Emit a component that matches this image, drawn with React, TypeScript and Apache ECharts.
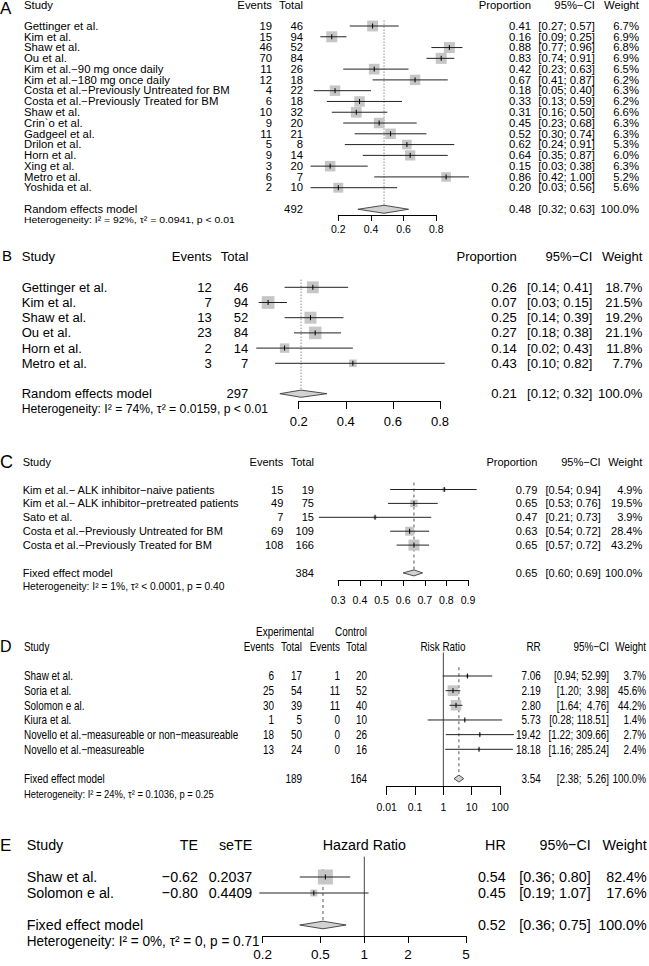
import React, { useEffect, useRef } from "react";
import * as echarts from "echarts";

// ---------------- Panel A data ----------------
const aStudies = [
  "Gettinger et al.", "Kim et al.", "Shaw et al.", "Ou et al.",
  "Kim et al.−90 mg once daily", "Kim et al.−180 mg once daily",
  "Costa et al.−Previously Untreated for BM", "Costa et al.−Previously Treated for BM",
  "Shaw et al.", "Crin`o et al.", "Gadgeel et al.", "Drilon et al.", "Horn et al.",
  "Xing et al.", "Metro et al.", "Yoshida et al.",
];
const aEvents = [19, 15, 46, 70, 11, 12, 4, 6, 10, 9, 11, 5, 9, 3, 6, 2];
const aTotals = [46, 94, 52, 84, 26, 18, 22, 18, 32, 20, 21, 8, 14, 20, 7, 10];
const aProp = [0.41, 0.16, 0.88, 0.83, 0.42, 0.67, 0.18, 0.33, 0.31, 0.45, 0.52, 0.62, 0.64, 0.15, 0.86, 0.20];
const aLow = [0.27, 0.09, 0.77, 0.74, 0.23, 0.41, 0.05, 0.13, 0.16, 0.23, 0.30, 0.24, 0.35, 0.03, 0.42, 0.03];
const aHigh = [0.57, 0.25, 0.96, 0.91, 0.63, 0.87, 0.40, 0.59, 0.50, 0.68, 0.74, 0.91, 0.87, 0.38, 1.00, 0.56];
const aWeight = [6.7, 6.9, 6.8, 6.9, 6.5, 6.2, 6.3, 6.2, 6.6, 6.3, 6.3, 5.3, 6.0, 6.3, 5.2, 5.6];
const aPooled = [0.48, 0.32, 0.63];
const aPooledTotal = 492;
const aModel = "Random effects model";
const aHet = "Heterogeneity: I² = 92%, τ² = 0.0941, p < 0.01";
const aTicks = [0.2, 0.4, 0.6, 0.8];

// ---------------- Panel B data ----------------
const bStudies = ["Gettinger et al.", "Kim et al.", "Shaw et al.", "Ou et al.", "Horn et al.", "Metro et al."];
const bEvents = [12, 7, 13, 23, 2, 3];
const bTotals = [46, 94, 52, 84, 14, 7];
const bProp = [0.26, 0.07, 0.25, 0.27, 0.14, 0.43];
const bLow = [0.14, 0.03, 0.14, 0.18, 0.02, 0.10];
const bHigh = [0.41, 0.15, 0.39, 0.38, 0.43, 0.82];
const bWeight = [18.7, 21.5, 19.2, 21.1, 11.8, 7.7];
const bPooled = [0.21, 0.12, 0.32];
const bPooledTotal = 297;
const bModel = "Random effects model";
const bHet = "Heterogeneity: I² = 74%, τ² = 0.0159, p < 0.01";
const bTicks = [0.2, 0.4, 0.6, 0.8];

// ---------------- Panel C data ----------------
const cStudies = [
  "Kim et al.− ALK inhibitor−naive patients",
  "Kim et al.− ALK inhibitor−pretreated patients",
  "Sato et al.",
  "Costa et al.−Previously Untreated for BM",
  "Costa et al.−Previously Treated for BM",
];
const cEvents = [15, 49, 7, 69, 108];
const cTotals = [19, 75, 15, 109, 166];
const cProp = [0.79, 0.65, 0.47, 0.63, 0.65];
const cLow = [0.54, 0.53, 0.21, 0.54, 0.57];
const cHigh = [0.94, 0.76, 0.73, 0.72, 0.72];
const cWeight = [4.9, 19.5, 3.9, 28.4, 43.2];
const cPooled = [0.65, 0.60, 0.69];
const cPooledTotal = 384;
const cModel = "Fixed effect model";
const cHet = "Heterogeneity: I² = 1%, τ² < 0.0001, p = 0.40";
const cTicks = [0.3, 0.4, 0.5, 0.6, 0.7, 0.8, 0.9];

// ---------------- Panel D data ----------------
const dStudies = [
  "Shaw et al.", "Soria et al.", "Solomon e al.", "Kiura et al.",
  "Novello et al.−measureable or non−measureable", "Novello et al.−measureable",
];
const dExpEvents = [6, 25, 30, 1, 18, 13];
const dExpTotals = [17, 54, 39, 5, 50, 24];
const dCtrlEvents = [1, 11, 11, 0, 0, 0];
const dCtrlTotals = [20, 52, 40, 10, 26, 16];
const dRR = [7.06, 2.19, 2.80, 5.73, 19.42, 18.18];
const dLow = [0.94, 1.20, 1.64, 0.28, 1.22, 1.16];
const dHigh = [52.99, 3.98, 4.76, 118.51, 309.66, 285.24];
const dWeight = [3.7, 45.6, 44.2, 1.4, 2.7, 2.4];
const dPooled = [3.54, 2.38, 5.26];
const dExpPooledTotal = 189;
const dCtrlPooledTotal = 164;
const dModel = "Fixed effect model";
const dHet = "Heterogeneity: I² = 24%, τ² = 0.1036, p = 0.25";
const dTicks = [0.01, 0.1, 1, 10, 100];

// ---------------- Panel E data ----------------
const eStudies = ["Shaw et al.", "Solomon e al."];
const eTE = [-0.62, -0.80];
const eSeTE = [0.2037, 0.4409];
const eHR = [0.54, 0.45];
const eLow = [0.36, 0.19];
const eHigh = [0.80, 1.07];
const eWeight = [82.4, 17.6];
const ePooled = [0.52, 0.36, 0.75];
const eModel = "Fixed effect model";
const eHet = "Heterogeneity: I² = 0%, τ² = 0, p = 0.71";
const eTicks = [0.2, 0.5, 1, 2, 5];

// ---------------- styles ----------------
const FONT = '"Liberation Sans", Arial, Helvetica, sans-serif';
const NARROW = '"Liberation Sans Narrow", "Arial Narrow", "Liberation Sans", sans-serif';
const SQUARE = "#c6c6c6";
const LINE = "#222222";
const DIAMOND_FILL = "#d2d2d2";
const DIAMOND_STROKE = "#3a3a3a";
const REF = "#555555";

const f2 = (v: number) => v.toFixed(2);
const ciStr = (lo: number, hi: number, pad = 0) => `[${f2(lo)}; ${f2(hi).padStart(pad, " ")}]`;
const pct = (w: number) => `${w.toFixed(1)}%`;
const signed = (v: number) => (v < 0 ? "−" : "") + Math.abs(v).toFixed(2);

let measureCtx: CanvasRenderingContext2D | null = null;
function textWidth(text: string, size: number, family: string) {
  if (!measureCtx) measureCtx = document.createElement("canvas").getContext("2d");
  if (!measureCtx) return text.length * size * 0.5;
  measureCtx.font = `${size}px ${family}`;
  return measureCtx.measureText(text).width;
}
// font size that gives a text the width it has in the reference picture
function fitSize(text: string, family: string, target: number, fallback: number) {
  const w = textWidth(text, 20, family);
  if (!w) return fallback;
  const s = (20 * target) / w;
  return isFinite(s) && s > 4 && s < 30 ? s : fallback;
}
function hasNarrowFont() {
  const a = textWidth("Novello measureable Study", 20, '"Liberation Sans"');
  const b = textWidth("Novello measureable Study", 20, '"Liberation Sans Narrow", "Liberation Sans"');
  return b < a * 0.93;
}

type Col = { x: number; align: string; header?: string; values: string[]; summary?: string };
type Cell = { row: number; x: number; align: string; text: string; size: number; family?: string; lh?: number; sy?: number };

function buildOption() {
  const dFam = hasNarrowFont() ? NARROW : FONT;

  const aFont = fitSize(aStudies[6], FONT, 206, 11);
  const bFont = fitSize(bStudies[0], FONT, 85.7, 13.4);
  const cFont = fitSize(cStudies[1], FONT, 216.7, 11.3);
  const dFont = fitSize(dStudies[4], dFam, 214.3, 10);
  const eFont = fitSize(eStudies[0], FONT, 70.7, 14.5);

  const panels: any[] = [
    {
      letter: "A", letterX: 0, letterRow: -1.6, letterSize: 17, headerRow: -1.9, sy: 0.9,
      row0: 26, rowH: 10.78, minRow: -3, axisRow: 17.53,
      left: 338.3, width: 98, log: false, xMin: 0.2, xMax: 0.8, interval: 0.2, ticks: aTicks,
      font: aFont, family: FONT, hetFont: aFont * 0.92, tickFont: 10.5, tickLen: 6, labelMargin: 9,
      maxSq: 11, diamondH: 4, refDash: [1, 2], refStart: -0.5,
      est: aProp, lo: aLow, hi: aHigh, w: aWeight, pooled: aPooled, het: aHet,
      cols: [
        { x: 24, align: "left", header: "Study", values: aStudies, summary: aModel },
        { x: 272, align: "right", header: "Events", values: aEvents.map(String) },
        { x: 303, align: "right", header: "Total", values: aTotals.map(String), summary: String(aPooledTotal) },
        { x: 531, align: "right", header: "Proportion", values: aProp.map(f2), summary: f2(aPooled[0]) },
        { x: 595, align: "right", header: "95%−CI", values: aLow.map((l, i) => ciStr(l, aHigh[i])), summary: ciStr(aPooled[1], aPooled[2]) },
        { x: 639, align: "right", header: "Weight", values: aWeight.map(pct), summary: pct(100) },
      ],
      extra: [],
    },
    {
      letter: "B", letterX: 2, letterRow: -2.1, letterSize: 15, headerRow: -2, sy: 1,
      row0: 287.3, rowH: 15.2, minRow: -3, axisRow: 7.48,
      left: 298.7, width: 141.3, log: false, xMin: 0.2, xMax: 0.8, interval: 0.2, ticks: bTicks,
      font: bFont, family: FONT, hetFont: fitSize(bHet, FONT, 246.6, 12), tickFont: 13, tickLen: 8, labelMargin: 14,
      maxSq: 12.7, diamondH: 3.6, refDash: [1, 2], refStart: -0.5,
      est: bProp, lo: bLow, hi: bHigh, w: bWeight, pooled: bPooled, het: bHet,
      cols: [
        { x: 21.7, align: "left", header: "Study", values: bStudies, summary: bModel },
        { x: 211.7, align: "right", header: "Events", values: bEvents.map(String) },
        { x: 248.3, align: "right", header: "Total", values: bTotals.map(String), summary: String(bPooledTotal) },
        { x: 516.7, align: "right", header: "Proportion", values: bProp.map(f2), summary: f2(bPooled[0]) },
        { x: 592.3, align: "right", header: "95%−CI", values: bLow.map((l, i) => ciStr(l, bHigh[i])), summary: ciStr(bPooled[1], bPooled[2]) },
        { x: 642.3, align: "right", header: "Weight", values: bWeight.map(pct), summary: pct(100) },
      ],
      extra: [],
    },
    {
      letter: "C", letterX: 0, letterRow: -2, letterSize: 18, headerRow: -2, sy: 1,
      row0: 489.5, rowH: 13.9, minRow: -3, axisRow: 6.51,
      left: 338.3, width: 129.7, log: false, xMin: 0.3, xMax: 0.9, interval: 0.1, ticks: cTicks,
      font: cFont, family: FONT, hetFont: fitSize(cHet, FONT, 202, 10.4), tickFont: 10.6, tickLen: 6, labelMargin: 15,
      maxSq: 11, diamondH: 3, refDash: [3, 3], refStart: -0.5,
      est: cProp, lo: cLow, hi: cHigh, w: cWeight, pooled: cPooled, het: cHet,
      cols: [
        { x: 22.7, align: "left", header: "Study", values: cStudies, summary: cModel },
        { x: 283.3, align: "right", header: "Events", values: cEvents.map(String) },
        { x: 314, align: "right", header: "Total", values: cTotals.map(String), summary: String(cPooledTotal) },
        { x: 537.3, align: "right", header: "Proportion", values: cProp.map(f2), summary: f2(cPooled[0]) },
        { x: 600.7, align: "right", header: "95%−CI", values: cLow.map((l, i) => ciStr(l, cHigh[i])), summary: ciStr(cPooled[1], cPooled[2]) },
        { x: 642.3, align: "right", header: "Weight", values: cWeight.map(pct), summary: pct(100) },
      ],
      extra: [],
    },
    {
      letter: "D", letterX: 0, letterRow: -2, letterSize: 16, headerRow: -2, sy: Math.max(1, 12.4 / dFont),
      row0: 676, rowH: 14.66, minRow: -4, axisRow: 7.5,
      left: 386.7, width: 113.3, log: true, xMin: 0.01, xMax: 100, interval: 1, ticks: dTicks,
      font: dFont, family: dFam, hetFont: fitSize(dHet, dFam, 190, 9.4), tickFont: 10.5, tickLen: 9, labelMargin: 16,
      maxSq: 10.7, diamondH: 3.5, refDash: [3, 3], refStart: -0.6, nullStart: -1.6,
      est: dRR, lo: dLow, hi: dHigh, w: dWeight, pooled: dPooled, het: dHet,
      cols: [
        { x: 24, align: "left", header: "Study", values: dStudies, summary: dModel },
        { x: 274, align: "right", header: "Events", values: dExpEvents.map(String) },
        { x: 302, align: "right", header: "Total", values: dExpTotals.map(String), summary: String(dExpPooledTotal) },
        { x: 340, align: "right", header: "Events", values: dCtrlEvents.map(String) },
        { x: 367, align: "right", header: "Total", values: dCtrlTotals.map(String), summary: String(dCtrlPooledTotal) },
        { x: 540.7, align: "right", header: "RR", values: dRR.map(f2), summary: f2(dPooled[0]) },
        { x: 609, align: "right", header: "95%−CI", values: dLow.map((l, i) => ciStr(l, dHigh[i], 5)), summary: ciStr(dPooled[1], dPooled[2], 5) },
        { x: 646, align: "right", header: "Weight", values: dWeight.map(pct), summary: pct(100) },
      ],
      extra: [
        { row: -3, x: 285, align: "center", text: "Experimental" },
        { row: -3, x: 367, align: "right", text: "Control" },
        { row: -2, x: 443, align: "center", text: "Risk Ratio" },
      ],
    },
    {
      letter: "E", letterX: 0, letterRow: -2, letterSize: 17, headerRow: -2, sy: 1.08,
      row0: 877, rowH: 16, minRow: -3, axisRow: 3.69,
      left: 262.6, width: 203.4, log: true, xMin: 0.2, xMax: 5, ticks: eTicks,
      font: eFont, family: FONT, hetFont: fitSize(eHet, FONT, 233, 13.5), tickFont: 13.5, tickLen: 7, labelMargin: 11,
      maxSq: 15, diamondH: 3.8, refDash: [3, 3], refStart: -0.5, nullStart: -1.27,
      est: eHR, lo: eLow, hi: eHigh, w: eWeight, pooled: ePooled, het: eHet,
      cols: [
        { x: 26.7, align: "left", header: "Study", values: eStudies, summary: eModel },
        { x: 198, align: "right", header: "TE", values: eTE.map(signed) },
        { x: 252.3, align: "right", header: "seTE", values: eSeTE.map((v) => v.toFixed(4)) },
        { x: 505.7, align: "right", header: "HR", values: eHR.map(f2), summary: f2(ePooled[0]) },
        { x: 590.7, align: "right", header: "95%−CI", values: eLow.map((l, i) => ciStr(l, eHigh[i])), summary: ciStr(ePooled[1], ePooled[2]) },
        { x: 646.7, align: "right", header: "Weight", values: eWeight.map(pct), summary: pct(100) },
      ],
      extra: [{ row: -2, x: 364.3, align: "center", text: "Hazard Ratio" }],
    },
  ];

  const grid: any[] = [];
  const xAxis: any[] = [];
  const yAxis: any[] = [];
  const series: any[] = [];

  panels.forEach((p, gi) => {
    const n = p.est.length;
    const tx = (v: number) => (p.log ? Math.log10(v) : v);
    const sumRow = n + 1;

    grid.push({
      left: p.left,
      width: p.width,
      top: p.row0 + p.minRow * p.rowH,
      height: (p.axisRow - p.minRow) * p.rowH,
      containLabel: false,
      outerBoundsMode: "none",
    });

    const labelFmt = (v: number) =>
      p.log ? String(Number(Math.pow(10, v).toPrecision(6))) : String(Number(v.toFixed(2)));
    const xa: any = {
      gridIndex: gi,
      type: "value",
      min: tx(p.xMin),
      max: tx(p.xMax),
      axisLine: { show: true, onZero: false, lineStyle: { color: "#000", width: 1 } },
      axisTick: { show: true, inside: false, length: p.tickLen, lineStyle: { color: "#000", width: 1 } },
      axisLabel: {
        show: true,
        color: "#000",
        fontSize: p.tickFont,
        fontFamily: p.family,
        margin: p.labelMargin,
        formatter: labelFmt,
        showMinLabel: true,
        showMaxLabel: true,
        hideOverlap: false,
      },
      splitLine: { show: false },
    };
    if (p.interval !== undefined) {
      xa.interval = p.interval;
    } else {
      const cv = p.ticks.map(tx);
      xa.axisTick.customValues = cv;
      xa.axisLabel.customValues = cv;
    }
    xAxis.push(xa);
    yAxis.push({ gridIndex: gi, type: "value", inverse: true, min: p.minRow, max: p.axisRow, show: false });

    const base = { type: "custom", xAxisIndex: gi, yAxisIndex: gi, clip: false, silent: true, animation: false };

    // null-effect line (ratio panels)
    if (p.nullStart !== undefined) {
      series.push({
        ...base,
        data: [[tx(1), p.nullStart, p.axisRow]],
        encode: { x: 0, y: [1, 2] },
        renderItem: (params: any, api: any) => {
          const a = api.coord([api.value(0), api.value(1)]);
          const b = api.coord([api.value(0), api.value(2)]);
          return { type: "line", shape: { x1: a[0], y1: a[1], x2: b[0], y2: b[1] }, style: { stroke: "#444", lineWidth: 1 } };
        },
      });
    }

    // pooled-estimate reference line
    series.push({
      ...base,
      data: [[tx(p.pooled[0]), p.refStart, sumRow]],
      encode: { x: 0, y: [1, 2] },
      renderItem: (params: any, api: any) => {
        const a = api.coord([api.value(0), api.value(1)]);
        const b = api.coord([api.value(0), api.value(2)]);
        return {
          type: "line",
          shape: { x1: a[0], y1: a[1], x2: b[0], y2: b[1] },
          style: { stroke: REF, lineWidth: 1, lineDash: p.refDash },
        };
      },
    });

    // study squares + CI lines
    const maxW = Math.max(...p.w);
    series.push({
      ...base,
      data: p.est.map((e: number, i: number) => [tx(e), tx(p.lo[i]), tx(p.hi[i]), i, p.w[i]]),
      encode: { x: [0, 1, 2], y: 3 },
      renderItem: (params: any, api: any) => {
        const row = api.value(3);
        const c = api.coord([api.value(0), row]);
        const l = api.coord([api.value(1), row]);
        const h = api.coord([api.value(2), row]);
        const s = p.maxSq * Math.sqrt(api.value(4) / maxW);
        return {
          type: "group",
          children: [
            { type: "rect", shape: { x: c[0] - s / 2, y: c[1] - s / 2, width: s, height: s }, style: { fill: SQUARE } },
            { type: "line", shape: { x1: l[0], y1: l[1], x2: h[0], y2: h[1] }, style: { stroke: LINE, lineWidth: 1 } },
            { type: "line", shape: { x1: c[0], y1: c[1] - 2.5, x2: c[0], y2: c[1] + 2.5 }, style: { stroke: "#000", lineWidth: 1 } },
          ],
        };
      },
    });

    // pooled diamond
    series.push({
      ...base,
      data: [[tx(p.pooled[0]), tx(p.pooled[1]), tx(p.pooled[2]), sumRow]],
      encode: { x: [0, 1, 2], y: 3 },
      renderItem: (params: any, api: any) => {
        const row = api.value(3);
        const c = api.coord([api.value(0), row]);
        const l = api.coord([api.value(1), row]);
        const h = api.coord([api.value(2), row]);
        const d = p.diamondH;
        return {
          type: "polygon",
          shape: { points: [[l[0], l[1]], [c[0], c[1] - d], [h[0], h[1]], [c[0], c[1] + d]] },
          style: { fill: DIAMOND_FILL, stroke: DIAMOND_STROKE, lineWidth: 0.9 },
        };
      },
    });

    // text cells
    const rowLh = (p.rowH * 0.95) / p.sy;
    const cells: Cell[] = [];
    p.cols.forEach((c: Col) => {
      if (c.header) cells.push({ row: p.headerRow, x: c.x, align: c.align, text: c.header, size: p.font });
      c.values.forEach((t, i) => cells.push({ row: i, x: c.x, align: c.align, text: t, size: p.font }));
      if (c.summary) cells.push({ row: sumRow, x: c.x, align: c.align, text: c.summary, size: p.font });
    });
    cells.push({ row: sumRow + 1, x: p.cols[0].x, align: "left", text: p.het, size: p.hetFont });
    p.extra.forEach((e: any) => cells.push({ ...e, size: p.font }));
    cells.push({ row: p.letterRow, x: p.letterX, align: "left", text: p.letter, size: p.letterSize, family: FONT, lh: p.letterSize, sy: 1 });

    const xAnchor = tx(p.xMin);
    series.push({
      ...base,
      data: cells.map((c) => [xAnchor, c.row]),
      encode: { x: 0, y: 1 },
      renderItem: (params: any, api: any) => {
        const c = cells[params.dataIndex];
        const pt = api.coord([api.value(0), api.value(1)]);
        return {
          type: "text",
          x: c.x,
          y: pt[1],
          scaleY: c.sy !== undefined ? c.sy : p.sy,
          style: {
            text: c.text,
            fill: "#000",
            fontSize: c.size,
            fontFamily: c.family || p.family,
            lineHeight: c.lh || Math.min(c.size * 1.15, rowLh),
            textAlign: c.align,
            textVerticalAlign: "middle",
            align: c.align,
            verticalAlign: "middle",
          },
        };
      },
    });
  });

  return {
    animation: false,
    backgroundColor: "#ffffff",
    grid,
    xAxis,
    yAxis,
    series,
  };
}

export default function App() {
  const ref = useRef<HTMLDivElement>(null);
  useEffect(() => {
    document.body.style.margin = "0";
    const el = ref.current;
    if (!el) return;
    const chart = echarts.init(el, null, { renderer: "svg", width: 649, height: 966 });
    chart.setOption(buildOption() as any);
    return () => {
      chart.dispose();
    };
  }, []);
  return <div ref={ref} style={{ width: 649, height: 966, background: "#fff" }} />;
}
